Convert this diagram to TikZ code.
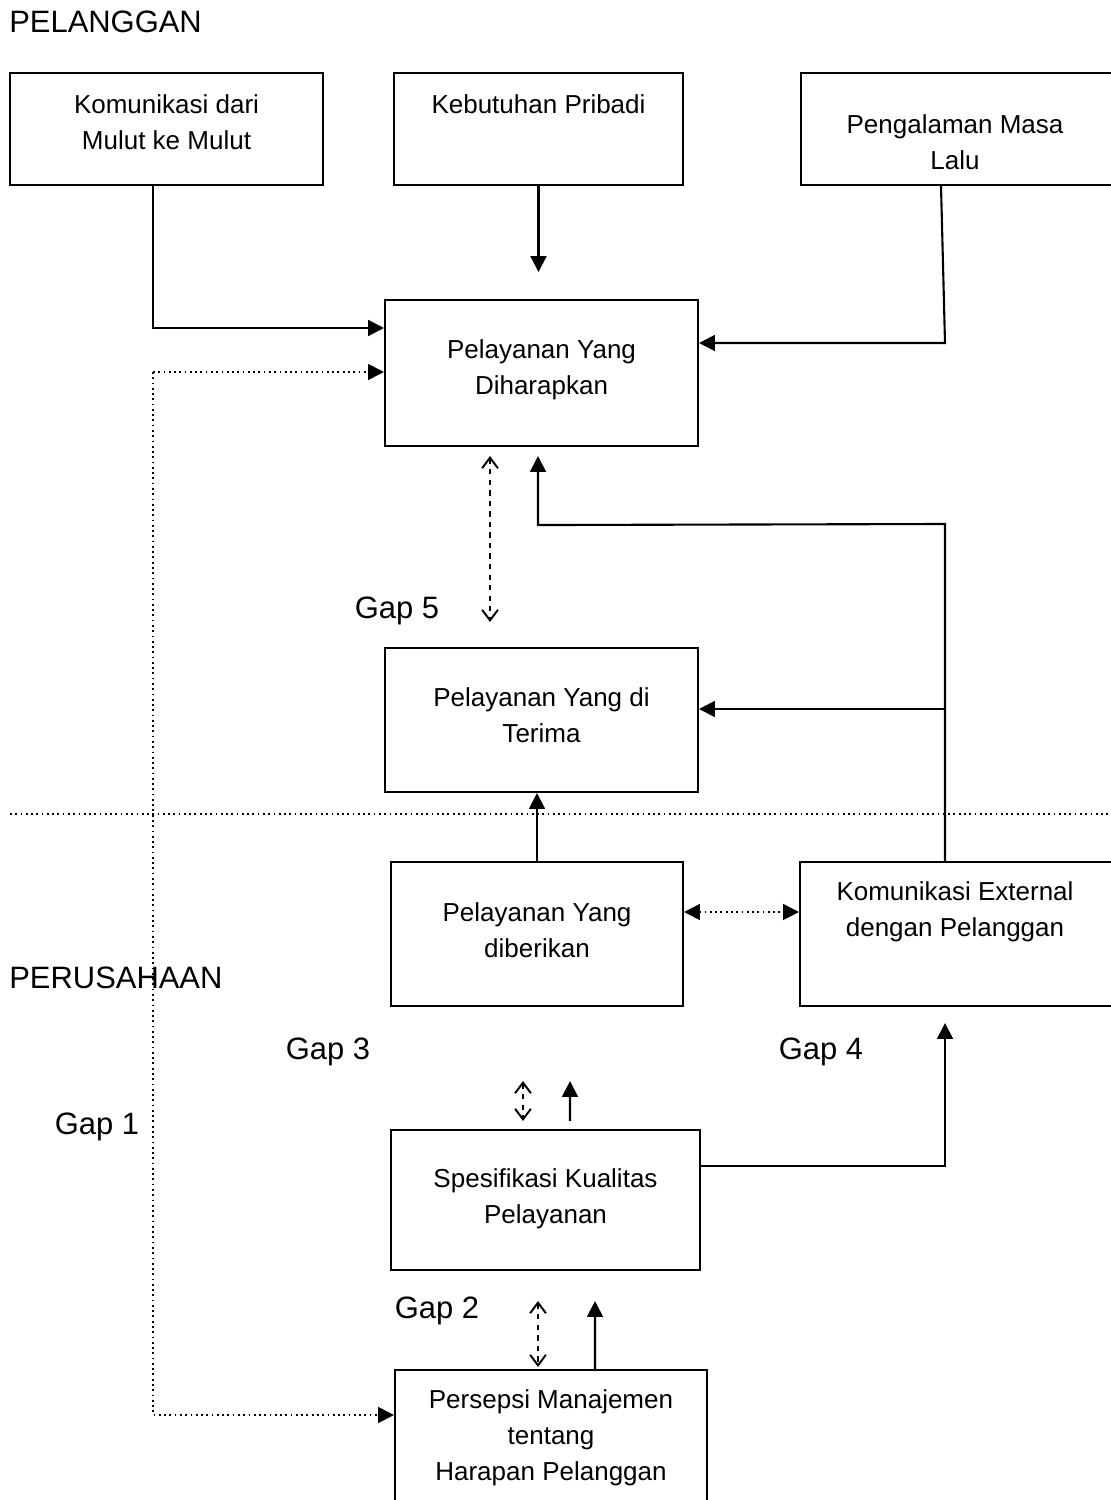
\documentclass[tikz,border=0pt]{standalone}
\usepackage{fontspec}
\setmainfont{Liberation Sans}
\usepackage{tikz}
\usetikzlibrary{arrows.meta,calc}

\tikzset{
  kotak/.style={draw, line width=1.2pt, inner sep=0pt},
  isi/.style={align=center, font=\fontsize{14.8}{20.5}\selectfont},
  judul/.style={font=\fontsize{17.6}{21}\selectfont},
  panah/.style={line width=1.2pt, -{Triangle[length=9pt,width=9pt]}},
  titik/.style={line width=1pt, dotted},
  duaarah/.style={line width=1.1pt, dashed, {Straight Barb[length=6pt,width=9pt]}-{Straight Barb[length=6pt,width=9pt]}}
}

\begin{document}
\begin{tikzpicture}[x=0.02cm, y=-0.02cm]
      \useasboundingbox (0,0) rectangle (1110,1500);

      % Pelanggan side
      \node[judul, anchor=west, inner sep=0pt] at (9,22) {PELANGGAN};

      \node[kotak, minimum width=6.26cm, minimum height=2.24cm] (mulut) at (166.5,129) {};
      \node[isi] at (166.5,122) {Komunikasi dari\\Mulut ke Mulut};

      \node[kotak, minimum width=5.78cm, minimum height=2.24cm] (pribadi) at (538.5,129) {};
      \node[isi] at (538.5,104) {Kebutuhan Pribadi};

      \node[kotak, minimum width=6.22cm, minimum height=2.24cm] (lalu) at (956.5,129) {};
      \node[isi] at (955,142) {Pengalaman Masa\\Lalu};

      \node[kotak, minimum width=6.26cm, minimum height=2.92cm] (harap) at (541.5,373) {};
      \node[isi] at (541.5,369.5) {Pelayanan Yang\\Diharapkan};

      \node[kotak, minimum width=6.26cm, minimum height=2.88cm] (terima) at (541.5,720) {};
      \node[isi] at (541.5,715) {Pelayanan Yang di\\Terima};

      % Garis batas
      \draw[titik] (10,814) -- (1110,814);

      % Perusahaan side
      \node[judul, anchor=west, inner sep=0pt] at (9,978) {PERUSAHAAN};

      \node[kotak, minimum width=5.84cm, minimum height=2.88cm] (diberi) at (537,934) {};
      \node[isi] at (537,930) {Pelayanan Yang\\diberikan};

      \node[kotak, minimum width=6.24cm, minimum height=2.88cm] (eksternal) at (956,934) {};
      \node[isi] at (955,911.5) {Komunikasi External\\dengan Pelanggan};

      \node[kotak, minimum width=6.18cm, minimum height=2.8cm] (spesifikasi) at (545.5,1200) {};
      \node[isi] at (545.5,1198.5) {Spesifikasi Kualitas\\Pelayanan};

      \node[kotak, minimum width=6.24cm, minimum height=2.8cm] (persepsi) at (551,1440) {};
      \node[isi] at (551,1438) {Persepsi Manajemen\\tentang\\Harapan Pelanggan};

      % Gap labels
      \node[judul] at (397,611) {Gap 5};
      \node[judul] at (328,1052) {Gap 3};
      \node[judul] at (821,1052) {Gap 4};
      \node[judul] at (97,1127) {Gap 1};
      \node[judul] at (437,1311) {Gap 2};

      % Arrows into Pelayanan Yang Diharapkan
      \coordinate (kiriA) at (153,328);
      \draw[panah] (mulut.south -| kiriA) -- (kiriA) -- (harap.west |- kiriA);
      \draw[panah] (pribadi.south) -- ++(0,86);
      \coordinate (kananA) at (945,343);
      \draw[panah] ($(lalu.south)+(-15.5,0)$) -- (kananA) -- (harap.east |- kananA);

      % Gap 1 (dotted)
      \coordinate (titikA) at (153,372);
      \coordinate (titikB) at (153,1415);
      \draw[titik, -{Triangle[length=9pt,width=9pt]}] (titikA) -- (harap.west |- titikA);
      \draw[titik, -{Triangle[length=9pt,width=9pt]}] (titikA) -- (titikB) -- (persepsi.west |- titikB);

      % Gap 5
      \draw[duaarah] ($(harap.south)+(-51.5,9)$) -- ($(terima.north)+(-51.5,-25)$);

      % Komunikasi External upward
      \coordinate (kananB) at (945,524);
      \draw[panah] (eksternal.north -| kananB) -- (kananB) -- ($(harap.south)+(-3.5,78)$) -- ($(harap.south)+(-3.5,9)$);
      \coordinate (kananC) at (945,709);
      \draw[panah] (kananC) -- (terima.east |- kananC);

      % Pelayanan Yang diberikan
      \draw[panah] (diberi.north) -- (terima.south -| diberi.north);
      \draw[titik, {Triangle[length=9pt,width=9pt]}-{Triangle[length=9pt,width=9pt]}] ($(diberi.east)+(0,-22)$) -- ($(eksternal.west)+(0,-22)$);

      % Gap 3
      \draw[duaarah] ($(diberi.south)+(-14,74)$) -- ($(spesifikasi.north)+(-22.5,-8)$);
      \draw[panah] ($(spesifikasi.north)+(24.5,-8)$) -- ($(diberi.south)+(33,74)$);

      % Gap 4
      \draw[panah] ($(spesifikasi.east)+(0,-34)$) -| ($(eksternal.south)+(-11,16)$);

      % Gap 2
      \draw[duaarah] ($(spesifikasi.south)+(-7.5,30)$) -- ($(persepsi.north)+(-13,-2)$);
      \draw[panah] ($(persepsi.north)+(44,0)$) -- ($(spesifikasi.south)+(49.5,30)$);
\end{tikzpicture}
\end{document}
